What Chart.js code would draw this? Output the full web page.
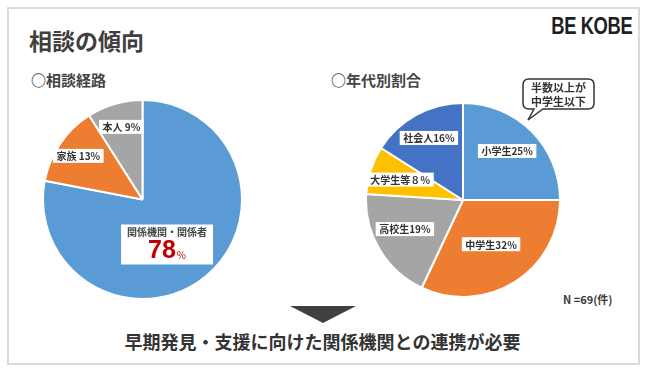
<!DOCTYPE html>
<html>
<head>
<meta charset="utf-8">
<script src="https://cdn.jsdelivr.net/npm/chart.js@4.4.1/dist/chart.umd.min.js"></script>
<style>
  body { margin: 0; width: 647px; height: 375px; background: #fff; position: relative; overflow: hidden;
         font-family: "Noto Sans CJK JP", "Noto Sans", sans-serif; }
  .frame { position: absolute; left: 7px; top: 7px; width: 629px; height: 354px; border: 2px solid #dadada; }
  .t { position: absolute; white-space: nowrap; color: #3a3a3a; line-height: 1; }
  #title { left: 29px; top: 29px; font-size: 23px; font-weight: bold; color: #404040; }
  #logo { right: 15px; top: 15px; font-size: 23px; font-weight: bold; color: #1e1e1e;
          font-family: "Liberation Sans", "DejaVu Sans", sans-serif;
          transform: scaleX(0.8); transform-origin: right top; letter-spacing: -0.5px; }
  #subL { left: 31px; top: 72px; font-size: 15px; font-weight: bold; color: #444; }
  #subR { left: 331px; top: 72px; font-size: 15px; font-weight: bold; color: #444; }
  #note { left: 563px; top: 294px; font-size: 11px; font-weight: bold; }
  #bubbleText { left: 523px; top: 81px; width: 71px; text-align: center; font-size: 11px; line-height: 13.5px; font-weight: bold; color: #333; }
  #bottom { left: 0; width: 645px; text-align: center; top: 332px; font-size: 18px; font-weight: bold; color: #333; }
  #arrow { position: absolute; left: 290px; top: 306px; width: 0; height: 0;
           border-left: 33px solid transparent; border-right: 33px solid transparent; border-top: 17px solid #404040; }
  canvas { position: absolute; }
  #pieL { left: 42px; top: 99px; }
  #pieR { left: 365px; top: 102px; }
  svg { position: absolute; }
</style>
</head>
<body>
<div class="frame"></div>
<div class="t" id="title">相談の傾向</div>
<div class="t" id="logo">BE KOBE</div>
<div class="t" id="subL">○相談経路</div>
<div class="t" id="subR">○年代別割合</div>
<canvas id="pieL" width="201" height="201"></canvas>
<canvas id="pieR" width="196" height="196"></canvas>
<svg style="left:515px;top:72px" width="90" height="55">
  <path d="M14,7 H73 Q79,7 79,13 V31 Q79,37 73,37 H28 L13,48 L19,37 H14 Q8,37 8,31 V13 Q8,7 14,7 Z"
        fill="#fff" stroke="#333" stroke-width="1.5"/>
</svg>
<div class="t" id="bubbleText">半数以上が<br>中学生以下</div>
<div class="t" id="note">N =69(件)</div>
<div id="arrow"></div>
<div class="t" id="bottom">早期発見・支援に向けた関係機関との連携が必要</div>

<script>
// DATA
const routeLabels = ['関係機関・関係者', '家族', '本人'];
const routeValues = [78, 13, 9];
const ageLabels = ['小学生', '中学生', '高校生', '大学生等', '社会人'];
const ageValues = [25, 32, 19, 8, 16];

// COLOURS
const blue = '#5B9BD5', orange = '#ED7D31', gray = '#A5A5A5', yellow = '#FFC000', navy = '#4472C4';

const FONT = '"Noto Sans CJK JP", sans-serif';

// full-width digits for single figures (大学生等８％)
function fullWidth(v) {
  return String(v).replace(/[0-9]/g, d => String.fromCharCode(0xFF10 + Number(d))) + '％';
}

// LABEL PLUGIN - white boxes placed along each slice's mid angle
const pieLabels = {
  id: 'pieLabels',
  afterDatasetsDraw(chart, args, opts) {
    const ctx = chart.ctx;
    const meta = chart.getDatasetMeta(0);
    const values = chart.data.datasets[0].data;
    ctx.save();
    ctx.textAlign = 'center';
    ctx.textBaseline = 'middle';
    meta.data.forEach((arc, i) => {
      const mid = (arc.startAngle + arc.endAngle) / 2 + (opts.shift[i] || 0) * Math.PI / 180;
      const r = arc.outerRadius * opts.radius[i];
      const x = arc.x + Math.cos(mid) * r;
      const y = arc.y + Math.sin(mid) * r;
      const cat = chart.data.labels[i];
      if (opts.big === i) {
        const w = 92, h = 40;
        ctx.fillStyle = '#fff';
        ctx.fillRect(x - w / 2, y - h / 2, w, h);
        ctx.fillStyle = '#444';
        ctx.font = 'bold 10px ' + FONT;
        ctx.fillText(cat, x, y - 12);
        const numFont = 'bold 25px "Liberation Sans", sans-serif';
        ctx.font = numFont;
        const num = String(values[i]);
        const nw = ctx.measureText(num).width;
        ctx.font = '10px ' + FONT;
        const pw = ctx.measureText('%').width;
        const left = x - (nw + pw + 1) / 2;
        ctx.textAlign = 'left';
        ctx.fillStyle = '#C00000';
        ctx.font = numFont;
        ctx.fillText(num, left, y + 7);
        ctx.font = '10px ' + FONT;
        ctx.fillText('%', left + nw + 1, y + 11);
        ctx.textAlign = 'center';
      } else {
        const text = opts.format(cat, values[i]);
        ctx.font = 'bold 10px ' + FONT;
        const w = ctx.measureText(text).width + 7;
        const h = 14;
        ctx.fillStyle = '#fff';
        ctx.fillRect(x - w / 2, y - h / 2, w, h);
        ctx.fillStyle = '#333';
        ctx.fillText(text, x, y + 0.5);
      }
    });
    ctx.restore();
  }
};

function pieOptions(labelOpts) {
  return {
    responsive: false,
    animation: false,
    events: [],
    layout: { padding: 0 },
    plugins: { legend: { display: false }, tooltip: { enabled: false }, pieLabels: labelOpts }
  };
}

// LEFT PIE - 相談経路
new Chart(document.getElementById('pieL'), {
  type: 'pie',
  data: {
    labels: routeLabels,
    datasets: [{
      data: routeValues,
      backgroundColor: [blue, orange, gray],
      borderColor: '#fff',
      borderWidth: 2,
      hoverOffset: 0
    }]
  },
  options: pieOptions({
    radius: [0.515, 0.78, 0.76],
    shift: [11, 0, 0],
    big: 0,
    format: (c, v) => c + ' ' + v + '%'
  }),
  plugins: [pieLabels]
});

// RIGHT PIE - 年代別割合
new Chart(document.getElementById('pieR'), {
  type: 'pie',
  data: {
    labels: ageLabels,
    datasets: [{
      data: ageValues,
      backgroundColor: [blue, orange, gray, yellow, navy],
      borderColor: '#fff',
      borderWidth: 2,
      hoverOffset: 0
    }]
  },
  options: pieOptions({
    radius: [0.68, 0.54, 0.67, 0.68, 0.73],
    shift: [-3, 0, 4, 0, 0],
    big: -1,
    format: (c, v) => c + (v < 10 ? fullWidth(v) : v + '%')
  }),
  plugins: [pieLabels]
});
</script>
</body>
</html>
